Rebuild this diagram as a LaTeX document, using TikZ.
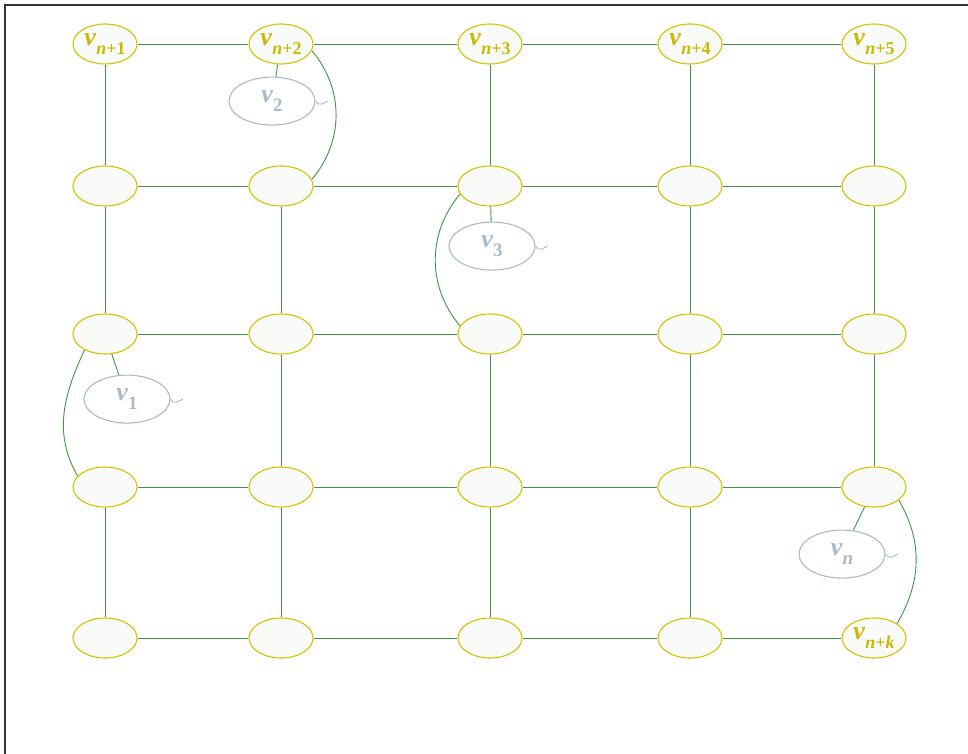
\documentclass[tikz,border=0pt]{standalone}
\usepackage{fontspec}
\setmainfont{Liberation Serif}
\usetikzlibrary{positioning,shapes.geometric}
\definecolor{edgegreen}{RGB}{61,150,61}
\definecolor{vyellow}{RGB}{214,192,0}
\definecolor{vtext}{RGB}{204,184,0}
\definecolor{cgray}{RGB}{168,187,203}
\definecolor{vfill}{RGB}{249,251,249}
% v with subscript n+...
\newcommand\lab[1]{\textbf{\textit{v}\raisebox{-.35em}{\fontsize{18}{18}\selectfont\textit{n}+#1}}}
\newcommand\clab[1]{\textbf{\textit{v}\raisebox{-.35em}{\fontsize{19}{19}\selectfont #1}}}

\begin{document}
\begin{tikzpicture}[x=1pt,y=1pt,
      font=\fontsize{26}{26}\selectfont,
      vert/.style={draw=vyellow,fill=vfill,ellipse,line width=1.1pt,inner sep=0pt,
                   minimum width=64pt,minimum height=40pt,text=vtext},
      callout/.style={draw=cgray,fill=white,ellipse,line width=1.1pt,inner sep=0pt,
                   minimum width=86pt,minimum height=48pt,text=cgray},
      link/.style={edgegreen,line width=.9pt},
      tail/.style={cgray,line width=.9pt}]
    \useasboundingbox (0,0) rectangle (968,-754);
    \draw[line width=1.5pt,black!80] (5,-754)--(5,-5)--(968,-5);
    % grid of vertices
    \foreach \c/\x/\s in {1/105/1,2/281/2,3/490/3,4/690/4,5/874/5}
      \node[vert] (n1\c) at (\x,-44) {\lab{\s}};
    \foreach \r/\y in {2/-186,3/-334,4/-487}
      \foreach \c/\x in {1/105,2/281,3/490,4/690,5/874}
        \node[vert] (n\r\c) at (\x,\y) {};
    \foreach \c/\x in {1/105,2/281,3/490,4/690}
      \node[vert] (n5\c) at (\x,-638) {};
    \node[vert] (n55) at (874,-638) {\lab{\textit{k}}};
    % callouts
    \node[callout,below=12pt of n12,xshift=-9pt] (c2) {\clab{2}};
    \node[callout,below=15pt of n23,xshift=2pt] (c3) {\clab{3}};
    \node[callout,below=20pt of n31,xshift=22pt] (c1) {\clab{1}};
    \node[callout,below=22pt of n45,xshift=-32pt] (cn) {\clab{\textit{n}}};
    % edges
    \foreach \r in {1,2,3,4,5}
      \foreach \a/\b in {1/2,2/3,3/4,4/5}
        \draw[link] (n\r\a)--(n\r\b);
    \foreach \c/\a/\b in {1/1/2,1/2/3,1/4/5,2/2/3,2/3/4,2/4/5,3/1/2,3/3/4,3/4/5,
                          4/1/2,4/2/3,4/3/4,4/4/5,5/1/2,5/2/3,5/3/4}
      \draw[link] (n\a\c)--(n\b\c);
    \draw[link] (c2)--(n12);
    \draw[link] (c3)--(n23);
    \draw[link] (c1)--(n31);
    \draw[link] (cn)--(n45);
    \draw[link] (n12.-12) to[out=-50,in=50] (n22.12);
    \draw[link] (n23.195) to[out=-130,in=130] (n33.165);
    \draw[link] (n31.218) to[out=-115,in=120] (n41.158);
    \draw[link] (n45.-28) to[out=-60,in=60] (n55.32);
    \foreach \n in {c1,c2,c3,cn}
      \draw[tail] (\n.east) .. controls +(4,-6) and +(-4,-2) .. +(12,0);
  \end{tikzpicture}
\end{document}
